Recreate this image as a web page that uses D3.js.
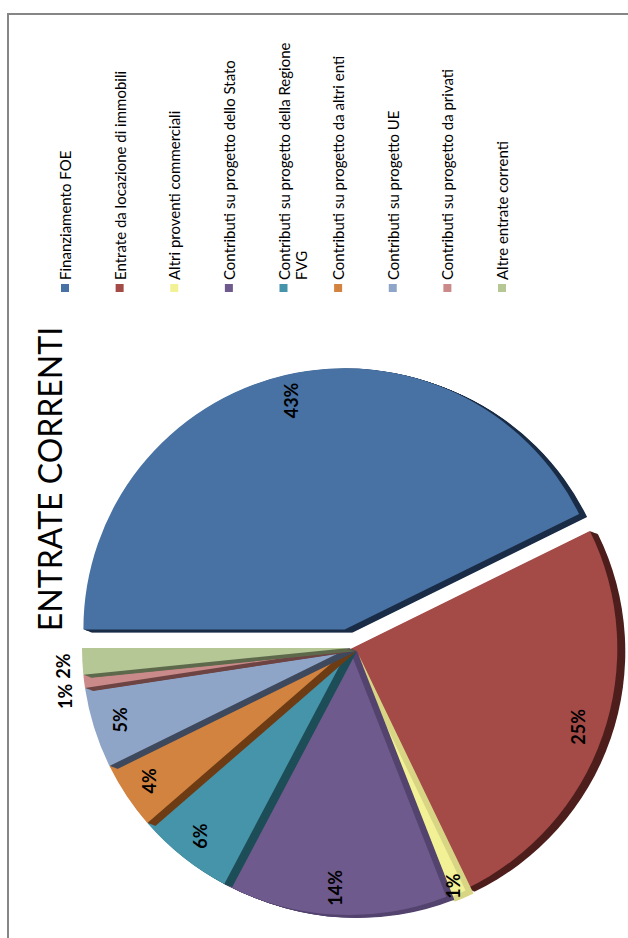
<!DOCTYPE html>
<html>
<head>
<meta charset="utf-8">
<script src="https://cdn.jsdelivr.net/npm/d3@7"></script>
<style>
  html, body { margin: 0; padding: 0; background: #ffffff; }
  svg { display: block; }
  text { font-family: Lato, "Open Sans", sans-serif; fill: #000; }
</style>
</head>
<body>
<svg id="chart" width="628" height="938"></svg>
<script>
// ---- data ----
const titleText = "ENTRATE CORRENTI";
const categories = [
  "Finanziamento FOE",
  "Entrate da locazione di immobili",
  "Altri proventi commerciali",
  "Contributi su progetto dello Stato",
  "Contributi su progetto della Regione FVG",
  "Contributi su progetto da altri enti",
  "Contributi su progetto UE",
  "Contributi su progetto da privati",
  "Altre entrate correnti"
];
const values = [42.8, 25.2, 1.2, 13.7, 5.9, 4.1, 4.9, 0.8, 1.6];
const faceColors = ["#4872a3", "#a44a47", "#f3f196", "#6e5a8c", "#4594aa", "#d38340", "#8fa5c8", "#c98a89", "#b4c795"];
const sideColors = ["#1b2d47", "#4e1f1d", "#d8d585", "#54446f", "#1e4e58", "#6e3d15", "#3f4a5e", "#6e4544", "#5f6a4d"];
const explodeBy = [19, 2, 3, 0, 0, 0, 0, 0, 0];
const outsideLabels = new Set(["Contributi su progetto da privati", "Altre entrate correnti"]);

// ---- layout (chart laid out upright, then the page is turned a quarter) ----
const W = 628, H = 938;
const svg = d3.select("#chart");

// page frame
svg.append("path")
  .attr("d", "M8,938V14H628")
  .attr("fill", "none")
  .attr("stroke", "#868686")
  .attr("stroke-width", 2);

// upright chart space: width H, height W
const g = svg.append("g").attr("transform", `translate(0,${H}) rotate(-90)`);

const cx = 290, cy = 349, R = 267;
const depth = { dx: -3, dy: 8 };   // extrusion direction of the slice walls

const pie = d3.pie().sort(null).value(d => d.value);
const rows = categories.map((c, i) => ({ name: c, value: values[i], face: faceColors[i], side: sideColors[i], explode: explodeBy[i] }));
const arcs = pie(rows);
const total = d3.sum(values);

const pieG = g.append("g").attr("transform", `translate(${cx},${cy})`);

arcs.forEach(a => {
  const mid = (a.startAngle + a.endAngle) / 2;
  const ox = Math.sin(mid) * a.data.explode;
  const oy = -Math.cos(mid) * a.data.explode;
  // pulled-out slices sit a little further back, so they read slightly smaller
  const r = R - a.data.explode * 0.3;
  const arc = d3.arc().innerRadius(0).outerRadius(r);
  const sg = pieG.append("g").attr("transform", `translate(${ox},${oy})`);
  const steps = 10;
  for (let s = steps; s >= 1; s--) {
    const t = s / steps;
    sg.append("path")
      .attr("d", arc(a))
      .attr("transform", `translate(${depth.dx * t},${depth.dy * t})`)
      .attr("fill", a.data.side);
  }
  sg.append("path")
    .attr("d", arc(a))
    .attr("fill", a.data.face);
  a.offset = [ox, oy];
  a.r = r;
});

// percentage labels
const labelG = pieG.append("g").attr("font-size", 18).attr("font-weight", 700);
const outside = [];
arcs.forEach(a => {
  const pct = Math.round(a.data.value / total * 100) + "%";
  const mid = (a.startAngle + a.endAngle) / 2;
  if (outsideLabels.has(a.data.name)) {
    const rr = a.r + 19;
    outside.push({ x: Math.sin(mid) * rr, y: -Math.cos(mid) * rr, text: pct });
  } else {
    const rr = a.data.value / total < 0.015 ? a.r * 0.965 : a.r * 0.9;
    labelG.append("text")
      .attr("x", a.offset[0] + Math.sin(mid) * rr)
      .attr("y", a.offset[1] - Math.cos(mid) * rr)
      .attr("text-anchor", "middle")
      .attr("dominant-baseline", "central")
      .text(pct);
  }
});
// outside labels: right-aligned to their anchor, pushed apart when they collide
let lastRight = -Infinity;
outside.sort((p, q) => p.x - q.x).forEach(o => {
  const t = labelG.append("text")
    .attr("dominant-baseline", "central")
    .attr("y", o.y)
    .text(o.text);
  const w = t.node().getComputedTextLength();
  let left = o.x - w;
  if (left < lastRight + 5) left = lastRight + 5;
  t.attr("x", left);
  lastRight = left + w;
});

// title
g.append("text")
  .attr("x", 459)
  .attr("y", 62)
  .attr("text-anchor", "middle")
  .attr("font-size", 32)
  .text(titleText);

// legend
const legendY = d3.scalePoint().domain(categories).range([65, 502]);
const legendX = 658;
const legendMax = 262;
const legend = g.append("g").attr("font-size", 15);
categories.forEach((c, i) => {
  const y = legendY(c);
  legend.append("rect")
    .attr("x", legendX - 12)
    .attr("y", y - 4)
    .attr("width", 8)
    .attr("height", 8)
    .attr("fill", faceColors[i]);
  const t = legend.append("text")
    .attr("x", legendX)
    .attr("y", y)
    .attr("dominant-baseline", "central");
  // wrap long entries onto a second line
  const words = c.split(" ");
  let line = [];
  let lineNo = 0;
  let ts = t.append("tspan").attr("x", legendX).attr("y", y);
  words.forEach(wd => {
    line.push(wd);
    ts.text(line.join(" "));
    if (ts.node().getComputedTextLength() > legendMax && line.length > 1) {
      line.pop();
      ts.text(line.join(" "));
      line = [wd];
      lineNo++;
      ts = t.append("tspan").attr("x", legendX).attr("y", y + lineNo * 17).text(wd);
    }
  });
});
</script>
</body>
</html>
